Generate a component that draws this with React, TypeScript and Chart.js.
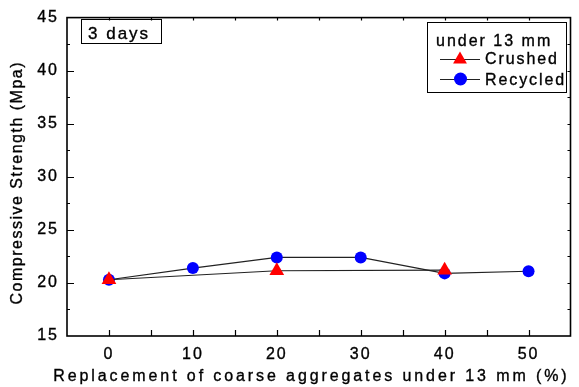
import React, { useEffect, useRef } from "react";
import { Chart, registerables } from "chart.js";

Chart.register(...registerables);

// Replacement ratio of coarse aggregates under 13 mm (%)
const crushedX = [0, 20, 40];
const crushedY = [20.3, 21.15, 21.2];
const recycledX = [0, 10, 20, 30, 40, 50];
const recycledY = [20.3, 21.4, 22.4, 22.4, 20.9, 21.1];

const xTicks = [0, 10, 20, 30, 40, 50];
const yMin = 15;
const yMax = 45;
const xMin = -5;
const xMax = 55;

const xTitle = "Replacement of coarse aggregates under 13 mm (%)";
const yTitle = "Compressive Strength (Mpa)";
const ageLabel = "3 days";
const legendTitle = "under 13 mm";
const seriesNames = ["Crushed", "Recycled"];

const FONT = "'Liberation Sans', Arial, sans-serif";

function spacedText(
  ctx: any,
  text: string,
  x: number,
  y: number,
  size: number,
  spacing: number,
  align: "left" | "center" = "left"
) {
  ctx.save();
  ctx.font = `${size}px ${FONT}`;
  ctx.letterSpacing = `${spacing}px`;
  ctx.textBaseline = "alphabetic";
  ctx.textAlign = "left";
  let x0 = x;
  if (align === "center") {
    const w = ctx.measureText(text).width - spacing;
    x0 = x - w / 2;
  }
  ctx.lineWidth = 0.35;
  ctx.strokeStyle = "#000";
  ctx.fillStyle = "#000";
  ctx.strokeText(text, x0, y);
  ctx.fillText(text, x0, y);
  ctx.restore();
}

const framePlugin = {
  id: "frameAndTicks",
  beforeDraw(chart: any) {
    chart.ctx.letterSpacing = "2px";
  },
  beforeDatasetsDraw(chart: any) {
    const { ctx, chartArea: a, scales } = chart;
    const xs = scales.x;
    const ys = scales.y;
    ctx.save();
    ctx.strokeStyle = "#000";
    ctx.lineWidth = 1.6;
    ctx.strokeRect(a.left, a.top, a.right - a.left, a.bottom - a.top);
    ctx.lineWidth = 1.2;
    ctx.beginPath();
    // x ticks every 5
    for (let v = xMin + 5; v < xMax; v += 5) {
      const px = Math.round(xs.getPixelForValue(v)) + 0.5;
      ctx.moveTo(px, a.bottom);
      ctx.lineTo(px, a.bottom - 6);
      ctx.moveTo(px, a.top);
      ctx.lineTo(px, a.top + 3);
    }
    // y ticks every 2.5
    for (let v = yMin + 2.5; v < yMax; v += 2.5) {
      const py = Math.round(ys.getPixelForValue(v)) + 0.5;
      const major = Math.abs(v % 5) < 1e-6;
      ctx.moveTo(a.left, py);
      ctx.lineTo(a.left + (major ? 7 : 3), py);
      ctx.moveTo(a.right, py);
      ctx.lineTo(a.right - 3, py);
    }
    ctx.stroke();
    ctx.restore();
  },
  afterDraw(chart: any) {
    const { ctx } = chart;
    ctx.save();
    ctx.letterSpacing = "0px";

    // axis titles
    spacedText(ctx, xTitle, 310, 381, 16, 2.9, "center");
    ctx.save();
    ctx.translate(22, 183.5);
    ctx.rotate(-Math.PI / 2);
    spacedText(ctx, yTitle, 0, 0, 16, 1.5, "center");
    ctx.restore();

    ctx.strokeStyle = "#000";
    ctx.lineWidth = 1;
    // age label box
    ctx.strokeRect(81.5, 19.5, 80, 24);
    spacedText(ctx, ageLabel, 88, 39, 17, 2);

    // legend
    ctx.strokeStyle = "#000";
    ctx.lineWidth = 1;
    ctx.strokeRect(427.5, 22.5, 139, 70);
    spacedText(ctx, legendTitle, 436, 46, 16, 2);
    spacedText(ctx, seriesNames[0], 485, 64, 16, 1.9);
    spacedText(ctx, seriesNames[1], 485, 85, 16, 1.9);
    ctx.strokeStyle = "#222";
    ctx.lineWidth = 1.2;
    ctx.beginPath();
    ctx.moveTo(440, 59.5);
    ctx.lineTo(480, 59.5);
    ctx.moveTo(440, 79.5);
    ctx.lineTo(480, 79.5);
    ctx.stroke();
    // legend markers
    ctx.fillStyle = "#ff0000";
    const r = 8;
    const cx = 460;
    const cy = 59.5;
    ctx.beginPath();
    ctx.moveTo(cx, cy - r);
    ctx.lineTo(cx + r * Math.sin((2 * Math.PI) / 3), cy + r / 2);
    ctx.lineTo(cx - r * Math.sin((2 * Math.PI) / 3), cy + r / 2);
    ctx.closePath();
    ctx.fill();
    ctx.fillStyle = "#0000ff";
    ctx.beginPath();
    ctx.arc(460.5, 79, 6.5, 0, Math.PI * 2);
    ctx.fill();
    ctx.restore();
  },
};

export default function App() {
  const canvasRef = useRef<HTMLCanvasElement | null>(null);

  useEffect(() => {
    const canvas = canvasRef.current;
    if (!canvas) return;
    const chart = new Chart(canvas, {
      type: "scatter",
      data: {
        datasets: [
          {
            label: seriesNames[0],
            data: crushedX.map((x, i) => ({ x, y: crushedY[i] })),
            showLine: true,
            borderColor: "#222",
            borderWidth: 1.2,
            pointStyle: "triangle",
            pointRadius: 8.5,
            pointBackgroundColor: "#ff0000",
            pointBorderWidth: 0,
            pointBorderColor: "#ff0000",
          },
          {
            label: seriesNames[1],
            data: recycledX.map((x, i) => ({ x, y: recycledY[i] })),
            showLine: true,
            borderColor: "#222",
            borderWidth: 1.2,
            pointStyle: "circle",
            pointRadius: 6,
            pointBackgroundColor: "#0000ff",
            pointBorderWidth: 0,
            pointBorderColor: "#0000ff",
          },
        ],
      },
      options: {
        responsive: false,
        animation: false,
        layout: { padding: { top: 16, right: 6, left: 0, bottom: 0 } },
        plugins: {
          legend: { display: false },
          tooltip: { enabled: false },
        },
        scales: {
          x: {
            type: "linear",
            min: xMin,
            max: xMax,
            afterBuildTicks: (s: any) => {
              s.ticks = xTicks.map((v) => ({ value: v }));
            },
            afterFit: (s: any) => {
              s.height = 51;
            },
            grid: { display: false, drawTicks: false },
            border: { display: false },
            ticks: {
              padding: 9,
              color: "#000",
              textStrokeColor: "#000",
              textStrokeWidth: 0.35,
              font: { family: FONT, size: 16 },
            },
          },
          y: {
            type: "linear",
            min: yMin,
            max: yMax,
            ticks: {
              stepSize: 5,
              padding: 8,
              color: "#000",
              textStrokeColor: "#000",
              textStrokeWidth: 0.35,
              font: { family: FONT, size: 16 },
            },
            afterFit: (s: any) => {
              s.width = 67;
            },
            grid: { display: false, drawTicks: false },
            border: { display: false },
          },
        },
      },
      plugins: [framePlugin],
    });
    return () => chart.destroy();
  }, []);

  return (
    <div style={{ position: "fixed", left: 0, top: 0, width: 579, height: 387, background: "#fff" }}>
      <canvas ref={canvasRef} width={579} height={387} />
    </div>
  );
}
